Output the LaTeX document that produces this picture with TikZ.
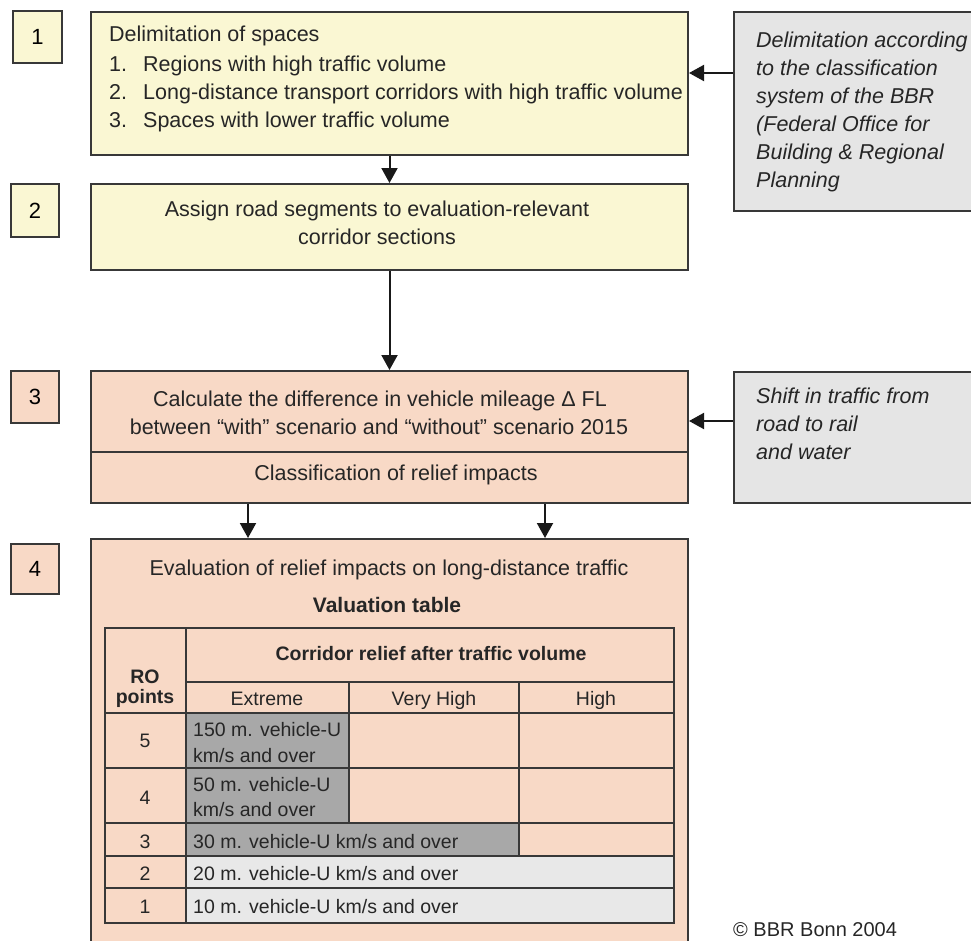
\documentclass[tikz,border=0pt]{standalone}
\usepackage{fontspec}
\setmainfont{Liberation Sans}
\usetikzlibrary{arrows.meta}
\definecolor{ylw}{HTML}{FAF7D3}
\definecolor{pnk}{HTML}{F8D9C6}
\definecolor{gry}{HTML}{E5E5E5}
\definecolor{dgry}{HTML}{A8A8A8}
\definecolor{lgry}{HTML}{E8E8E8}
\definecolor{edge}{HTML}{383838}
\begin{document}
\begin{tikzpicture}[x=1pt,y=-1pt,
  box/.style={draw=edge, line width=2pt, inner sep=0pt, anchor=north west},
  lbl/.style={box, font=\fontsize{22}{26}\selectfont},
  txt/.style={inner sep=0pt, font=\fontsize{21.5}{28}\selectfont, text=black!85},
  itx/.style={txt, font=\fontsize{21.5}{28}\selectfont\itshape, anchor=base west},
  tbl/.style={inner sep=0pt, font=\fontsize{19.5}{27}\selectfont, text=black!85},
  tbb/.style={tbl, font=\fontsize{19.5}{27}\selectfont\bfseries},
  arr/.style={line width=2pt, draw=black!90, -{Triangle[length=15pt,width=16pt]}},
  tline/.style={draw=edge, line width=1.3pt}
]
\useasboundingbox (0,0) rectangle (971,940);
\clip (0,0) rectangle (971,940);

% step labels
\node[lbl, fill=ylw, minimum width=49pt, minimum height=52pt] (l1) at (12,10) {1};
\node[lbl, fill=ylw, minimum width=48pt, minimum height=53pt] (l2) at (10,183) {2};
\node[lbl, fill=pnk, minimum width=48pt, minimum height=52pt] (l3) at (10,370) {3};
\node[lbl, fill=pnk, minimum width=48pt, minimum height=50pt] (l4) at (10,543) {4};

% main boxes
\node[box, fill=ylw, minimum width=597pt, minimum height=143pt] (b1) at (90,11) {};
\node[box, fill=ylw, minimum width=597pt, minimum height=86pt] (b2) at (90,183) {};
\node[box, fill=pnk, minimum width=597pt, minimum height=132pt] (b3) at (90,370) {};
\node[box, fill=pnk, minimum width=597pt, minimum height=440pt] (b4) at (90,538) {};
\draw[draw=edge, line width=2pt] (b3.west |- 0,452) coordinate (d1) -- (b3.east |- 0,452) coordinate (d2);

% side boxes
\node[box, fill=gry, minimum width=260pt, minimum height=199pt] (g1) at (733,11) {};
\node[box, fill=gry, minimum width=260pt, minimum height=131pt] (g2) at (733,371) {};

% box 1 text
\node[txt, anchor=base west] (t1) at (109,41) {Delimitation of spaces};
\node[txt, anchor=base west] (n1) at (109,71) {1.};
\node[txt, anchor=base west] (t1a) at (143,71) {Regions with high traffic volume};
\node[txt, anchor=base west] (n2) at (109,99) {2.};
\node[txt, anchor=base west] (t1b) at (143,99) {Long-distance transport corridors with high traffic volume};
\node[txt, anchor=base west] (n3) at (109,127) {3.};
\node[txt, anchor=base west] (t1c) at (143,127) {Spaces with lower traffic volume};

% box 2 text
\node[txt, anchor=base] (t2a) at (377,216) {Assign road segments to evaluation-relevant};
\node[txt, anchor=base] (t2b) at (377,244) {corridor sections};

% box 3 text
\node[txt, anchor=base] (t3a) at (380,406) {Calculate the difference in vehicle mileage Δ FL};
\node[txt, anchor=base] (t3b) at (379,434) {between “with” scenario and “without” scenario 2015};
\node[txt, anchor=base] (t3c) at (396,480) {Classification of relief impacts};

% side texts
\node[itx] (s1) at (756,47) {Delimitation according};
\node[itx] (s2) at (756,75) {to the classification};
\node[itx] (s3) at (756,103) {system of the BBR};
\node[itx] (s4) at (756,131) {(Federal Office for};
\node[itx] (s5) at (756,159) {Building \& Regional};
\node[itx] (s6) at (756,187) {Planning};
\node[itx] (r1) at (756,403) {Shift in traffic from};
\node[itx] (r2) at (756,431) {road to rail};
\node[itx] (r3) at (756,459) {and water};

% box 4 text
\node[txt, anchor=base] (t4a) at (389,575) {Evaluation of relief impacts on long-distance traffic};
\node[txt, anchor=base, font=\fontsize{21}{28}\selectfont\bfseries] (t4b) at (387,612) {Valuation table};

% table fills
\fill[dgry] (186,713) rectangle (349,823);
\fill[dgry] (186,823) rectangle (519,856);
\fill[lgry] (186,856) rectangle (674,923);
% table lines
\draw[tline] (105,628) rectangle (674,923);
\draw[tline] (186,682) -- (674,682);
\foreach \yy in {713,768,823,856,888} { \draw[tline] (105,\yy) -- (674,\yy); }
\draw[tline] (186,628) -- (186,923);
\draw[tline] (349,682) -- (349,823);
\draw[tline] (519,682) -- (519,856);

% table texts
\node[tbb, anchor=base] (ro1) at (145,683) {RO};
\node[tbb, anchor=base] (ro2) at (145,703) {points};
\node[tbb, anchor=base] (hd) at (431,660) {Corridor relief after traffic volume};
\node[tbl, anchor=base] (c1) at (267,705) {Extreme};
\node[tbl, anchor=base] (c2) at (434,705) {Very High};
\node[tbl, anchor=base] (c3) at (596,705) {High};
\node[tbl, anchor=base] (p5) at (145,747) {5};
\node[tbl, anchor=base] (p4) at (145,804) {4};
\node[tbl, anchor=base] (p3) at (145,848) {3};
\node[tbl, anchor=base] (p2) at (145,880) {2};
\node[tbl, anchor=base] (p1) at (145,913) {1};
\node[tbl, anchor=base west] (v5a) at (193,736) {150 m. vehicle-U};
\node[tbl, anchor=base west] (v5b) at (193,762) {km/s and over};
\node[tbl, anchor=base west] (v4a) at (193,791) {50 m. vehicle-U};
\node[tbl, anchor=base west] (v4b) at (193,816) {km/s and over};
\node[tbl, anchor=base west] (v3) at (193,848) {30 m. vehicle-U km/s and over};
\node[tbl, anchor=base west] (v2) at (193,880) {20 m. vehicle-U km/s and over};
\node[tbl, anchor=base west] (v1) at (193,913) {10 m. vehicle-U km/s and over};

% copyright
\node[txt, anchor=base west, font=\fontsize{20}{24}\selectfont] (cp) at (733,936) {© BBR Bonn 2004};

% arrows
\draw[arr] (b1.south) -- (b2.north);
\draw[arr] (b2.south) -- (b3.north);
\coordinate (xa) at (248,0);
\coordinate (xb) at (545,0);
\draw[arr] (xa |- b3.south) -- (xa |- b4.north);
\draw[arr] (xb |- b3.south) -- (xb |- b4.north);
\coordinate (ya) at (0,73);
\coordinate (yb) at (0,421);
\draw[arr] (ya -| g1.west) -- (ya -| b1.east);
\draw[arr] (yb -| g2.west) -- (yb -| b3.east);
\end{tikzpicture}
\end{document}
